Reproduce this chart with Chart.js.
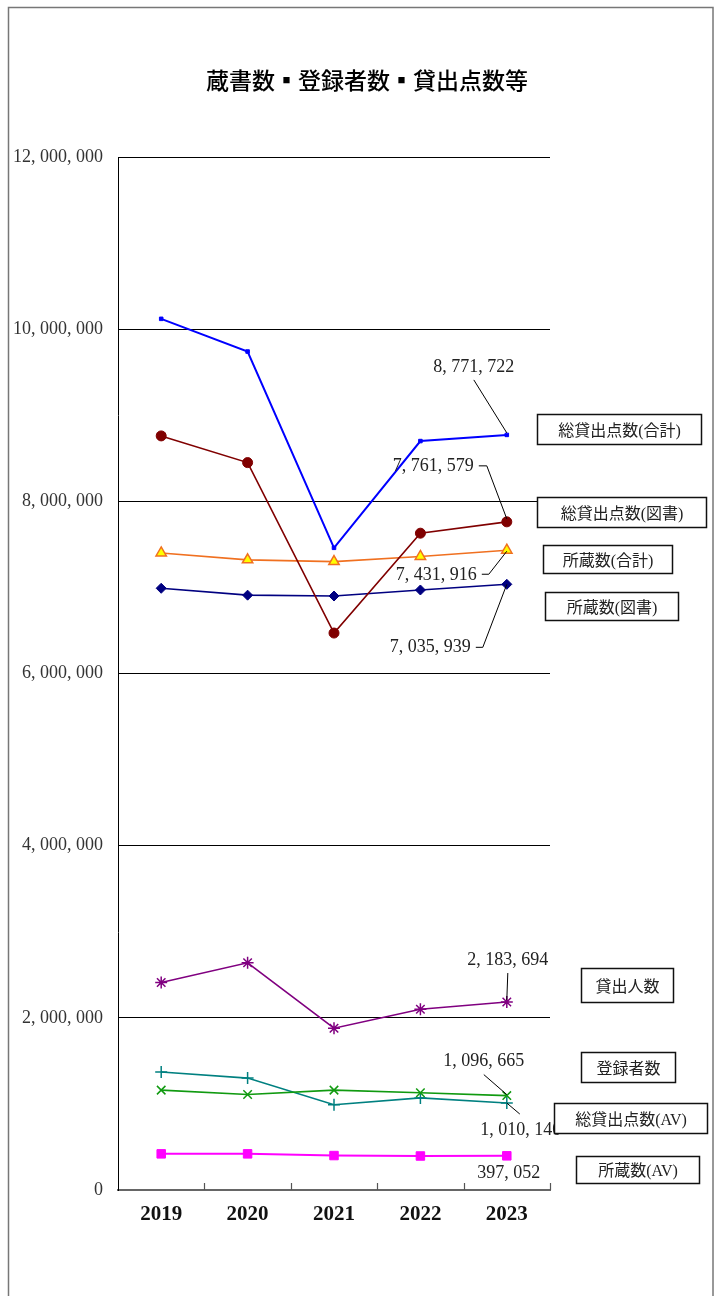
<!DOCTYPE html>
<html lang="ja">
<head>
<meta charset="utf-8">
<title>蔵書数・登録者数・貸出点数等</title>
<script src="https://cdn.jsdelivr.net/npm/chart.js@4/dist/chart.umd.min.js"></script>
<style>
    html, body { margin: 0; padding: 0; background: #fff; }
    #wrap { position: relative; width: 715px; height: 1296px; }
</style>
</head>
<body>
<div id="wrap"><canvas id="libraryChart"></canvas></div>
<script>
// 年度
const years = ["2019", "2020", "2021", "2022", "2023"];

// 各系列の値（グラフから読み取り、2023年は表示値）
const loansTotal   = [10120000, 9740000, 7460000, 8700000, 8771722];   // 総貸出点数(合計)
const loansBooks   = [8760000, 8450000, 6470000, 7630000, 7761579];    // 総貸出点数(図書)
const holdingsTotal = [7400000, 7320000, 7300000, 7360000, 7431916];   // 所蔵数(合計)
const holdingsBooks = [6990000, 6910000, 6900000, 6970000, 7035939];   // 所蔵数(図書)
const borrowers    = [2410000, 2640000, 1880000, 2100000, 2183694];    // 貸出人数
const registered   = [1160000, 1110000, 1160000, 1130000, 1096665];    // 登録者数
const loansAV      = [1370000, 1300000, 990000, 1070000, 1010140];     // 総貸出点数(AV)
const holdingsAV   = [420000, 420000, 400000, 395000, 397052];         // 所蔵数(AV)

const seriesNames = ["総貸出点数(合計)", "総貸出点数(図書)", "所蔵数(合計)", "所蔵数(図書)",
    "貸出人数", "登録者数", "総貸出点数(AV)", "所蔵数(AV)"];

// 軸目盛
const yMin = 0;
const yMax = 12000000;
const yStep = 2000000;

// 2023年の値ラベル位置（最終点からの相対px）
const valueLabelPos = [
    { dx: -33, dy: -68, align: "center", leader: [[-33, -55], [0, -2]] },
    { dx: -33, dy: -56, align: "right",  leader: [[-28, -56], [-20, -56], [0, -3]] },
    { dx: -30, dy: 25,  align: "right",  leader: [[-25, 24], [-18, 24], [0, 1]] },
    { dx: -36, dy: 63,  align: "right",  leader: [[-31, 63], [-24, 63], [0, 0]] },
    { dx: 1,   dy: -42, align: "center", leader: [[1, -29], [0, -2]] },
    { dx: -23, dy: -34, align: "center", leader: [[-23, -21], [0, -1]] },
    { dx: 14,  dy: 27,  align: "center", leader: [[0, 0], [13, 11]] },
    { dx: 2,   dy: 17,  align: "center", leader: null }
];

// 系列名ボックス位置（最終点からの相対px）
const nameBoxPos = [
    { dx: 30, dy: -21, w: 164, h: 30 },
    { dx: 30, dy: -25, w: 169, h: 30 },
    { dx: 36, dy: -5,  w: 129, h: 28 },
    { dx: 38, dy: 8,   w: 133, h: 28 },
    { dx: 74, dy: -34, w: 92,  h: 34 },
    { dx: 74, dy: -44, w: 94,  h: 30 },
    { dx: 47, dy: 0,   w: 153, h: 30 },
    { dx: 69, dy: 0,   w: 123, h: 27 }
];

const SERIF = "'Liberation Serif', 'Noto Sans CJK JP', serif";
const JP = "'Noto Sans CJK JP', sans-serif";

// 数値を「12, 000, 000」形式に
function formatNum(n) {
    return Math.round(n).toString().replace(/\B(?=(\d{3})+(?!\d))/g, ", ");
}

function makeSet(label, data, color, style) {
    return Object.assign({
        label: label,
        data: data,
        borderColor: color,
        backgroundColor: color,
        borderWidth: 1.6,
        tension: 0,
        pointBorderColor: color,
        pointBackgroundColor: color,
        pointBorderWidth: 1,
        pointHoverRadius: 0
    }, style);
}

// 枠・タイトル・目盛・ラベル描画
const decoPlugin = {
    id: "deco",
    beforeDraw(chart) {
        const ctx = chart.ctx;
        ctx.save();
        ctx.fillStyle = "#fff";
        ctx.fillRect(0, 0, chart.width, chart.height);
        ctx.strokeStyle = "#777";
        ctx.lineWidth = 1.5;
        ctx.strokeRect(8.5, 7.5, 704.5, chart.height + 20);
        ctx.fillStyle = "#000";
        ctx.font = "500 23px " + JP;
        ctx.textAlign = "center";
        ctx.textBaseline = "middle";
        ctx.fillText("蔵書数▪登録者数▪貸出点数等", 367, 80);
        ctx.restore();
    },
    afterDraw(chart) {
        const ctx = chart.ctx;
        const xs = chart.scales.x;
        const bottom = chart.chartArea.bottom;
        const step = xs.getPixelForValue(1) - xs.getPixelForValue(0);
        ctx.save();
        // 内向きの目盛
        ctx.strokeStyle = "#555";
        ctx.lineWidth = 1.2;
        for (let i = 0; i < years.length; i++) {
            const x = Math.round(xs.getPixelForValue(i) + step / 2) + 0.5;
            ctx.beginPath();
            ctx.moveTo(x, bottom);
            ctx.lineTo(x, bottom - 7);
            ctx.stroke();
        }
        const last = years.length - 1;
        // 値ラベルと引出線
        chart.data.datasets.forEach((ds, i) => {
            const pt = chart.getDatasetMeta(i).data[last];
            const p = valueLabelPos[i];
            if (p.leader) {
                ctx.strokeStyle = "#000";
                ctx.lineWidth = 1;
                ctx.beginPath();
                p.leader.forEach((q, k) => {
                    if (k === 0) ctx.moveTo(pt.x + q[0], pt.y + q[1]);
                    else ctx.lineTo(pt.x + q[0], pt.y + q[1]);
                });
                ctx.stroke();
            }
            ctx.fillStyle = "#222";
            ctx.font = "18px " + SERIF;
            ctx.textAlign = p.align;
            ctx.textBaseline = "middle";
            ctx.fillText(formatNum(ds.data[last]), pt.x + p.dx, pt.y + p.dy);
        });
        // 系列名ボックス
        chart.data.datasets.forEach((ds, i) => {
            const pt = chart.getDatasetMeta(i).data[last];
            const b = nameBoxPos[i];
            const left = Math.round(pt.x + b.dx) + 0.5;
            const top = Math.round(pt.y + b.dy) + 0.5;
            ctx.fillStyle = "#fff";
            ctx.fillRect(left, top, b.w, b.h);
            ctx.strokeStyle = "#111";
            ctx.lineWidth = 1.5;
            ctx.strokeRect(left, top, b.w, b.h);
            ctx.fillStyle = "#222";
            ctx.font = "16px " + SERIF;
            ctx.textAlign = "center";
            ctx.textBaseline = "middle";
            ctx.fillText(ds.label, left + b.w / 2, top + b.h / 2 + 2);
        });
        ctx.restore();
    }
};

new Chart(document.getElementById("libraryChart"), {
    type: "line",
    data: {
        labels: years,
        datasets: [
            makeSet(seriesNames[0], loansTotal, "#0000ff", { borderWidth: 2, pointStyle: "rect", pointRadius: 2.5 }),
            makeSet(seriesNames[1], loansBooks, "#800000", { pointStyle: "circle", pointRadius: 5 }),
            makeSet(seriesNames[2], holdingsTotal, "#f07020", { pointStyle: "triangle", pointRadius: 6,
                pointBackgroundColor: "#ffff00", pointBorderWidth: 1.5 }),
            makeSet(seriesNames[3], holdingsBooks, "#000080", { pointStyle: "rectRot", pointRadius: 5 }),
            makeSet(seriesNames[4], borrowers, "#800080", { pointStyle: "star", pointRadius: 6, pointBorderWidth: 1.5 }),
            makeSet(seriesNames[5], registered, "#109a10", { pointStyle: "crossRot", pointRadius: 6, pointBorderWidth: 1.5 }),
            makeSet(seriesNames[6], loansAV, "#008080", { pointStyle: "cross", pointRadius: 6, pointBorderWidth: 1.5 }),
            makeSet(seriesNames[7], holdingsAV, "#ff00ff", { borderWidth: 2, pointStyle: "rect", pointRadius: 6 })
        ]
    },
    options: {
        responsive: true,
        maintainAspectRatio: false,
        animation: false,
        events: [],
        layout: {
            padding: { left: 0, right: 165, top: 157, bottom: 0 }
        },
        plugins: {
            legend: { display: false },
            tooltip: { enabled: false },
            title: { display: false }
        },
        scales: {
            x: {
                type: "category",
                offset: true,
                grid: { display: false, drawTicks: false },
                border: { display: true, color: "#666", width: 2 },
                ticks: {
                    color: "#111",
                    padding: 12,
                    font: { family: SERIF, size: 21, weight: "bold" }
                },
                afterFit(scale) { scale.height = 106; }
            },
            y: {
                min: yMin,
                max: yMax,
                grid: { color: "#000", lineWidth: 1, drawTicks: false },
                border: { display: true, color: "#000", width: 1 },
                ticks: {
                    stepSize: yStep,
                    padding: 15,
                    color: "#333",
                    font: { family: SERIF, size: 18 },
                    callback: v => formatNum(v)
                },
                afterFit(scale) { scale.width = 118; }
            }
        }
    },
    plugins: [decoPlugin]
});
</script>
</body>
</html>
